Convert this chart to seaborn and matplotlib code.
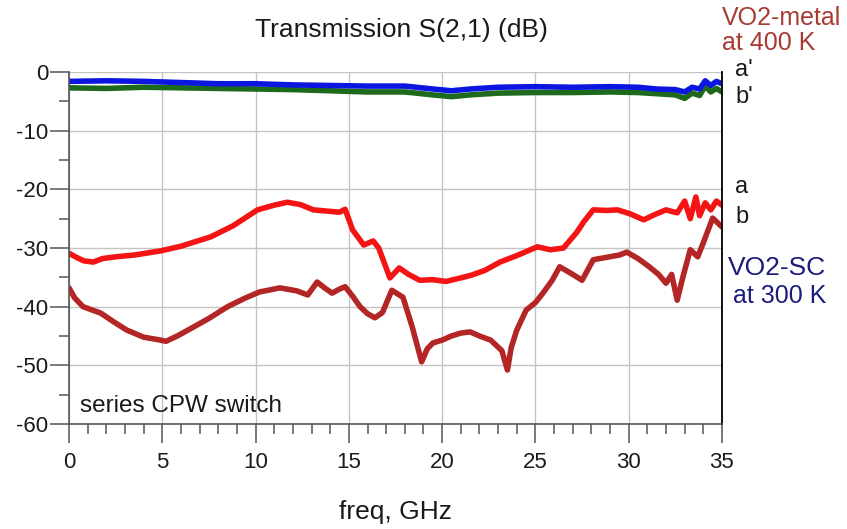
import matplotlib
matplotlib.use("Agg")
import matplotlib.pyplot as plt
import seaborn as sns
from matplotlib.ticker import MultipleLocator

# Data (freq in GHz, S21 in dB)
freq_a = [0, 0.4, 0.8, 1.3, 1.8, 2.5, 3.5, 4.9, 6.0, 7.6, 8.8, 10.1, 11.0, 11.7, 12.4,
          13.1, 13.8, 14.5, 14.8, 15.2, 15.8, 16.3, 16.6, 17.2, 17.7, 18.2, 18.8, 19.5,
          20.2, 21.0, 21.6, 22.3, 23.1, 24.0, 25.1, 25.8, 26.5, 27.2, 27.6, 28.1, 28.8,
          29.4, 30.1, 30.8, 31.4, 32.0, 32.6, 33.0, 33.3, 33.6, 33.8, 34.1, 34.4, 34.7, 35]
s21_a = [-30.9, -31.6, -32.2, -32.4, -31.8, -31.5, -31.2, -30.5, -29.7, -28.1, -26.2,
         -23.5, -22.7, -22.2, -22.6, -23.5, -23.7, -23.9, -23.4, -26.9, -29.5, -28.8,
         -30.0, -35.1, -33.4, -34.5, -35.5, -35.4, -35.7, -35.1, -34.6, -33.8, -32.4,
         -31.3, -29.8, -30.3, -30.0, -27.4, -25.5, -23.5, -23.6, -23.5, -24.2, -25.2,
         -24.3, -23.5, -24.0, -22.0, -25.0, -21.3, -24.5, -22.3, -23.5, -22.0, -22.7]

freq_b = [0, 0.3, 0.75, 1.7, 2.4, 3.1, 4.0, 4.9, 5.2, 5.8, 6.6, 7.5, 8.5, 9.4, 10.2, 11.3,
          12.2, 12.8, 13.3, 13.7, 14.1, 14.5, 14.8, 15.2, 15.6, 16.0, 16.4, 16.8, 17.3,
          17.9, 18.4, 18.9, 19.2, 19.5, 20.0, 20.5, 21.0, 21.5, 22.0, 22.6, 23.2, 23.5,
          23.7, 24.0, 24.5, 25.0, 25.4, 25.9, 26.3, 27.0, 27.5, 28.1, 28.8, 29.5, 29.9,
          30.5, 31.1, 31.6, 32.0, 32.3, 32.6, 32.9, 33.3, 33.7, 34.0, 34.5, 35]
s21_b = [-36.8, -38.5, -40.0, -41.1, -42.6, -44.0, -45.2, -45.7, -45.9, -45.0, -43.6,
         -42.0, -40.0, -38.6, -37.5, -36.8, -37.3, -38.0, -35.8, -36.8, -37.7, -37.0,
         -36.6, -38.2, -40.0, -41.2, -41.9, -41.0, -37.2, -38.4, -43.5, -49.4, -47.2,
         -46.2, -45.7, -45.0, -44.5, -44.3, -45.0, -45.7, -47.5, -50.8, -47.0, -44.0,
         -40.6, -39.3, -37.7, -35.5, -33.2, -34.5, -35.5, -32.0, -31.6, -31.2, -30.7,
         -31.8, -33.2, -34.5, -36.0, -34.5, -38.9, -35.0, -30.3, -31.5, -29.1, -24.9, -26.4]

freq_top = [0, 2, 4, 6, 8, 10, 12, 14, 16, 18, 19.5, 20.5, 21.5, 23, 25, 27, 29, 30.5,
            31.5, 32.5, 33.0, 33.4, 33.8, 34.1, 34.4, 34.7, 35]
s21_a_prime = [-1.6, -1.5, -1.6, -1.8, -2.0, -2.0, -2.2, -2.3, -2.4, -2.4, -2.9, -3.2,
               -2.9, -2.6, -2.5, -2.6, -2.5, -2.6, -2.9, -3.0, -3.4, -2.6, -2.9, -1.5,
               -2.3, -1.6, -2.0]
s21_b_prime = [-2.7, -2.8, -2.6, -2.7, -2.8, -2.9, -3.0, -3.2, -3.4, -3.4, -3.9, -4.2,
               -3.9, -3.6, -3.5, -3.5, -3.4, -3.5, -3.7, -3.9, -4.5, -3.6, -4.0, -2.4,
               -3.4, -2.8, -3.4]

sns.set_style("white")
plt.rcParams['font.family'] = ['Liberation Sans', 'DejaVu Sans']
plt.rcParams['axes.unicode_minus'] = False

fig = plt.figure(figsize=(8.47, 5.29), dpi=100)
ax = fig.add_axes([0.0815, 0.1985, 0.7709, 0.6654])

lw = 4
sns.lineplot(x=freq_b, y=s21_b, ax=ax, color='#b42626', linewidth=lw)
sns.lineplot(x=freq_a, y=s21_a, ax=ax, color='#f51414', linewidth=lw)
sns.lineplot(x=freq_top, y=s21_b_prime, ax=ax, color='#1d6a1d', linewidth=lw)
sns.lineplot(x=freq_top, y=s21_a_prime, ax=ax, color='#0b16e0', linewidth=lw)

ax.set_xlim(0, 35)
ax.set_ylim(-60, 0)
ax.xaxis.set_major_locator(MultipleLocator(5))
ax.xaxis.set_minor_locator(MultipleLocator(1))
ax.yaxis.set_major_locator(MultipleLocator(10))
ax.yaxis.set_minor_locator(MultipleLocator(5))
ax.grid(True, which='major', color='#c4c4c4', linewidth=1)
ax.set_axisbelow(True)

ax.spines['top'].set_visible(False)
for side in ['left', 'bottom']:
    ax.spines[side].set_color('#555555')
    ax.spines[side].set_linewidth(1.2)
ax.spines['right'].set_color('black')
ax.spines['right'].set_linewidth(1.3)

ax.tick_params(which='both', bottom=True, left=True, top=False, right=False)
ax.tick_params(which='major', direction='out', length=14, width=1.1, color='#555555',
               labelsize=16, labelcolor='#1a1a1a')
ax.tick_params(which='minor', direction='out', length=7, width=1.1, color='#555555')
ax.tick_params(axis='y', pad=1)
ax.tick_params(axis='x', pad=6)
ax.set_xlabel('')
ax.set_ylabel('')

fig.text(0.4734, 0.9433, 'Transmission S(2,1) (dB)', ha='center', va='center',
         fontsize=19, color='#1a1a1a')
fig.text(0.4664, 0.032, 'freq, GHz', ha='center', va='center', fontsize=19,
         color='#1a1a1a')
ax.text(0.6, -57, 'series CPW switch', ha='left', va='center', fontsize=17.5,
        color='#1a1a1a')

fig.text(0.8524, 0.966, 'VO2-metal', ha='left', va='center', fontsize=18,
         color='#a83a32')
fig.text(0.8524, 0.919, 'at 400 K', ha='left', va='center', fontsize=18,
         color='#a83a32')
fig.text(0.868, 0.868, "a'", ha='left', va='center', fontsize=17, color='#1a1a1a')
fig.text(0.868, 0.817, "b'", ha='left', va='center', fontsize=17, color='#1a1a1a')
fig.text(0.868, 0.646, 'a', ha='left', va='center', fontsize=17, color='#1a1a1a')
fig.text(0.868, 0.590, 'b', ha='left', va='center', fontsize=17, color='#1a1a1a')
fig.text(0.8595, 0.4934, 'VO2-SC', ha='left', va='center', fontsize=19,
         color='#1c1c7c')
fig.text(0.865, 0.4405, 'at 300 K', ha='left', va='center', fontsize=18,
         color='#1c1c7c')

fig.savefig('out.png', dpi=100)
